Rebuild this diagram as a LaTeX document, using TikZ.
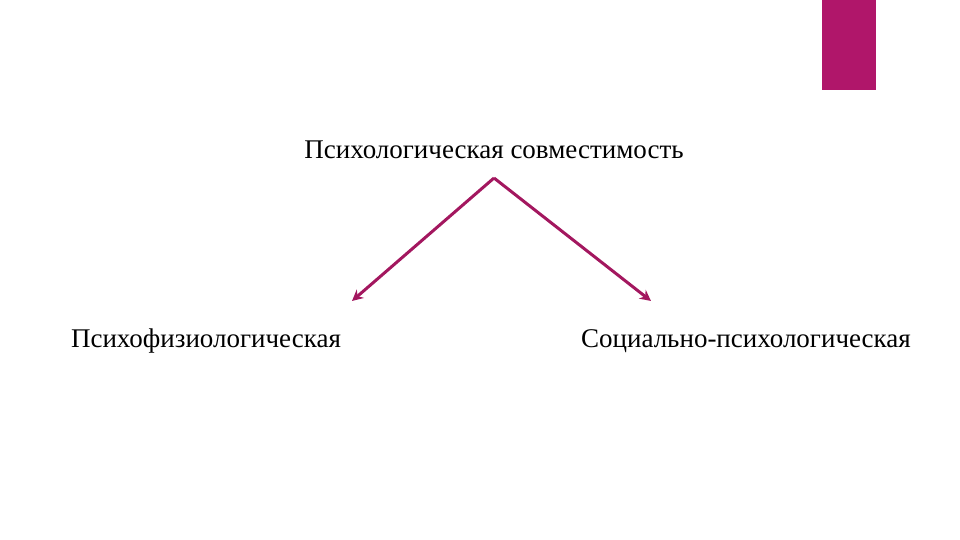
\documentclass[tikz,border=0pt]{standalone}
\usepackage{fontspec}
\setmainfont{Liberation Serif}
\usetikzlibrary{arrows.meta}
\definecolor{mag}{HTML}{B0166A}
\definecolor{arr}{HTML}{A3175F}
\begin{document}
\begin{tikzpicture}[x=1pt,y=-1pt,
  lbl/.style={font=\fontsize{27}{30}\selectfont, inner sep=0pt},
  conn/.style={draw=arr, line width=3pt, -{Stealth[length=11pt,width=11pt]}}]
\useasboundingbox (0,0) rectangle (960,540);
\fill[mag] (822,0) rectangle (876,90);
\node[lbl] (top) at (494,150) {Психологическая совместимость};
\node[lbl] (l) at (206,341) {Психофизиологическая};
\node[lbl] (r) at (746,341) {Социально-психологическая};
\coordinate (a) at (494,178);
\coordinate (al) at (352,301);
\coordinate (ar) at (651,301);
\draw[conn] (a) -- (al);
\draw[conn] (a) -- (ar);
\end{tikzpicture}
\end{document}
